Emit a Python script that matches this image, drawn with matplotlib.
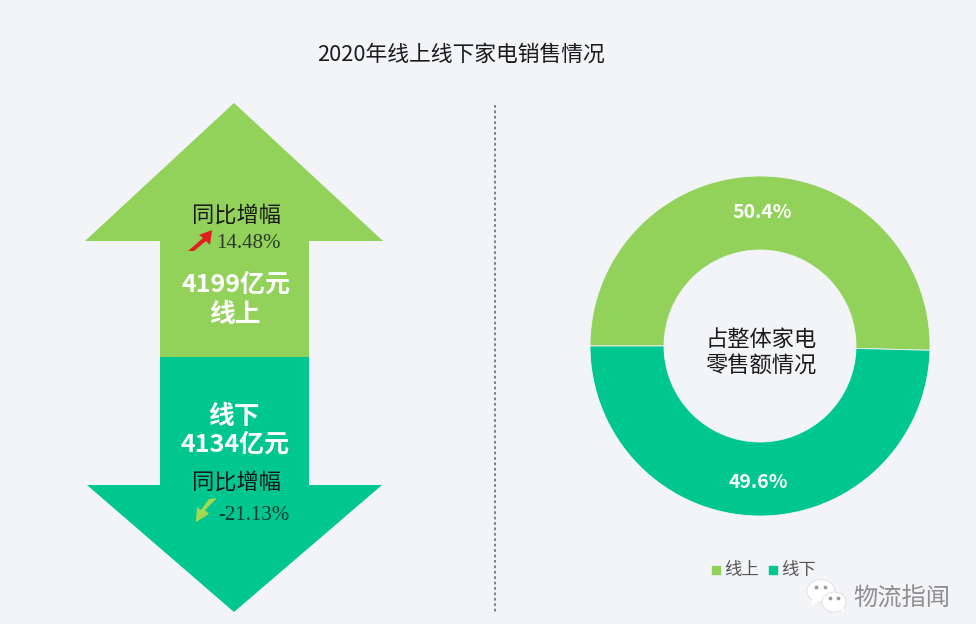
import matplotlib
matplotlib.use('Agg')
import matplotlib.pyplot as plt
from matplotlib.patches import Polygon, Ellipse

plt.rcParams['font.family'] = ['Noto Sans CJK SC', 'DejaVu Sans']

# 数据
title = '2020年线上线下家电销售情况'
channels = ['线上', '线下']
sales = ['4199亿元', '4134亿元']
growth = ['14.48%', '-21.13%']
share = [50.4, 49.6]
share_labels = ['50.4%', '49.6%']
centre_text = '占整体家电\n零售额情况'

bg = '#F2F4F8'
green = '#93D25A'
teal = '#00C78F'
dark = '#1A1A1A'
serif = ['Liberation Serif', 'DejaVu Serif']

W, H = 976, 624
fig = plt.figure(figsize=(W / 100, H / 100), dpi=100, facecolor=bg)

# 像素坐标的底层画布
ax = fig.add_axes([0, 0, 1, 1])
ax.set_xlim(0, W)
ax.set_ylim(H, 0)
ax.axis('off')

# 上下箭头
ax.add_patch(Polygon([(234, 103), (383, 241), (309, 241), (309, 357),
                      (160, 357), (160, 241), (85, 241)], fc=green, ec='none'))
ax.add_patch(Polygon([(160, 357), (309, 357), (309, 485), (382, 485),
                      (234, 612), (87, 485), (160, 485)], fc=teal, ec='none'))

ax.text(461, 55, title, fontsize=15.7, color=dark, ha='center', va='center')

# 左侧文字
ax.text(237, 215, '同比增幅', fontsize=16, color=dark, ha='center', va='center')
ax.text(248, 244, growth[0], fontsize=15, color='#2B3A2B', ha='center', va='center', family=serif)
ax.text(236, 285, sales[0], fontsize=18, color='white', ha='center', va='center', fontweight='bold')
ax.text(235, 314, channels[0], fontsize=18.5, color='white', ha='center', va='center', fontweight='bold')
ax.text(234, 416, channels[1], fontsize=18.5, color='white', ha='center', va='center', fontweight='bold')
ax.text(235, 445, sales[1], fontsize=18, color='white', ha='center', va='center', fontweight='bold')
ax.text(237, 482, '同比增幅', fontsize=16, color=dark, ha='center', va='center')
ax.text(254, 515, growth[1], fontsize=15, color='#0F3A30', ha='center', va='center', family=serif)

# 小箭头
ax.add_patch(Polygon([(188, 251), (203, 238), (199, 235), (212, 230),
                      (210, 245), (206, 241), (194, 251)], fc='#E02020', ec='none'))
ax.add_patch(Polygon([(217, 498), (205, 510), (209, 514), (196, 522),
                      (197, 507), (201, 510), (209, 499)], fc='#A6D94E', ec='none'))

# 分隔虚线
ax.plot([495, 495], [105, 612], color='#777777', lw=1.3, ls=(0, (1.5, 1.5)))

# 环形图
cx, cy, r = 760, 346, 170
pie_ax = fig.add_axes([(cx - r) / W, 1 - (cy + r) / H, 2 * r / W, 2 * r / H])
pie_ax.pie(share, colors=[green, teal], startangle=180, counterclock=False, radius=1,
           wedgeprops=dict(width=1 - 96 / 170, edgecolor=bg, linewidth=0.6))
pie_ax.set_xlim(-1, 1)
pie_ax.set_ylim(-1, 1)
pie_ax.patch.set_alpha(0)

ax.set_zorder(pie_ax.get_zorder() + 1)
ax.patch.set_alpha(0)

ax.text(762, 213, share_labels[0], fontsize=14, color='white', ha='center', va='center', fontweight='bold')
ax.text(758, 483, share_labels[1], fontsize=14, color='white', ha='center', va='center', fontweight='bold')
ax.text(761, 352, centre_text, fontsize=16, color=dark, ha='center', va='center', linespacing=1.15)

# 图例
ax.scatter([716], [570], marker='s', s=30, color=green)
ax.text(724, 570, channels[0], fontsize=12.5, color='#555555', ha='left', va='center')
ax.scatter([773], [570], marker='s', s=30, color=teal)
ax.text(781, 570, channels[1], fontsize=12.5, color='#555555', ha='left', va='center')

# 水印
ax.add_patch(Ellipse((821, 591), 28, 23, fc='white', ec='#D8D8D8', lw=0.5))
ax.add_patch(Polygon([(812, 598), (811, 606), (820, 601)], fc='white', ec='none'))
ax.add_patch(Ellipse((834, 602), 24, 20, fc='white', ec='#D8D8D8', lw=0.5))
ax.add_patch(Polygon([(838, 608), (844, 613), (842, 604)], fc='white', ec='none'))
ax.scatter([816, 825, 830, 838], [587, 587, 598, 598], s=3, color='#9A9A9A')
ax.text(853, 599, '物流指闻', fontsize=17.5, color='#8F8F8F', ha='left', va='center')

fig.savefig('out.png', dpi=100, facecolor=bg)
